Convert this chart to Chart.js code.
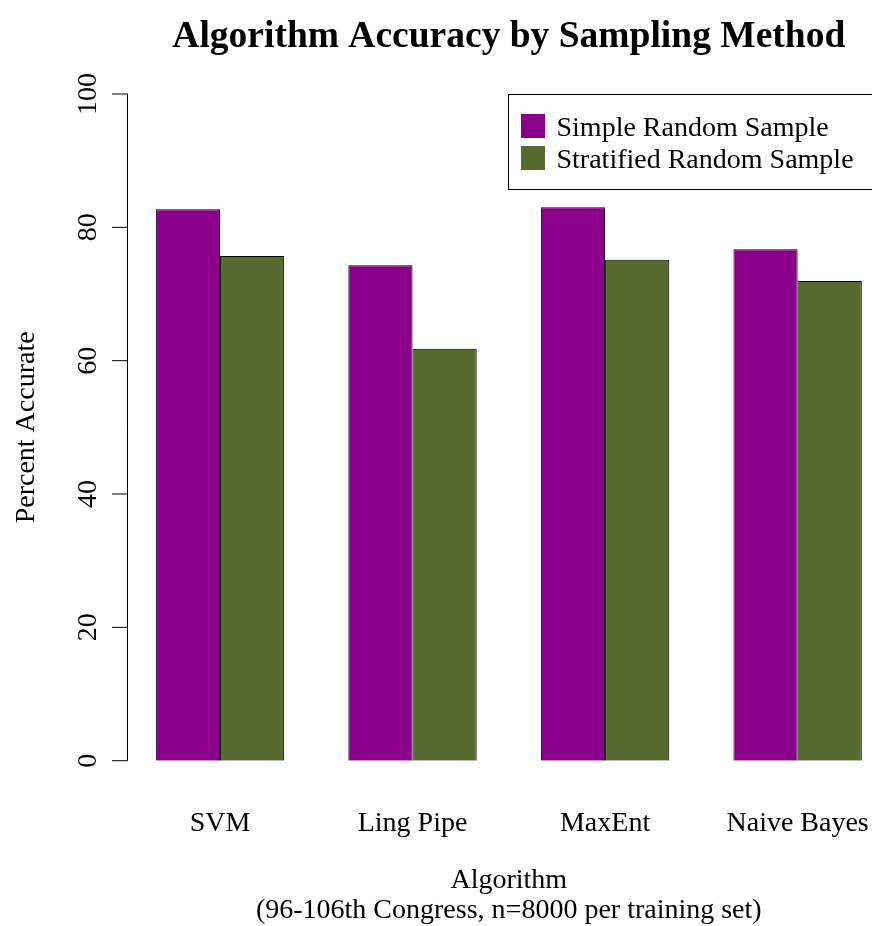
<!DOCTYPE html>
<html>
<head>
<meta charset="utf-8">
<script src="https://cdn.jsdelivr.net/npm/chart.js@4/dist/chart.umd.min.js"></script>
<style>
  html, body { margin: 0; padding: 0; overflow: hidden; background: #fff; }
  #wrap { width: 900px; height: 926px; }
</style>
</head>
<body>
<div id="wrap"><canvas id="chart" width="900" height="926"></canvas></div>
<script>
// data
const algorithms = ['SVM', 'Ling Pipe', 'MaxEnt', 'Naive Bayes'];
const simpleRandom = [82.7, 74.3, 83.0, 76.7];
const stratifiedRandom = [75.7, 61.8, 75.15, 71.95];
const seriesNames = ['Simple Random Sample', 'Stratified Random Sample'];
const seriesColors = ['#8B008B', '#556B2F'];
const yTicks = [0, 20, 40, 60, 80, 100];

const FONT = '"Liberation Serif", "Times New Roman", serif';

// R-style decorations: title, y axis with rotated labels, legend box, x titles
const decor = {
  id: 'decor',
  afterDraw(chart) {
    const ctx = chart.ctx;
    const y = chart.scales.y;
    const area = chart.chartArea;
    const cx = (area.left + area.right) / 2;
    ctx.save();
    ctx.fillStyle = '#000';
    ctx.strokeStyle = '#000';
    ctx.lineWidth = 1;

    // title
    ctx.font = 'bold 37.5px ' + FONT;
    ctx.textAlign = 'center';
    ctx.textBaseline = 'alphabetic';
    ctx.fillText('Algorithm Accuracy by Sampling Method', cx, 47);

    // y axis line + ticks
    const axX = 127.5;
    const top = y.getPixelForValue(yTicks[yTicks.length - 1]);
    const bot = y.getPixelForValue(yTicks[0]);
    ctx.beginPath();
    ctx.moveTo(axX, top);
    ctx.lineTo(axX, bot);
    yTicks.forEach(v => {
      const py = y.getPixelForValue(v);
      ctx.moveTo(112, py);
      ctx.lineTo(axX, py);
    });
    ctx.stroke();

    // y tick labels, rotated like R's las=0
    ctx.font = '28px ' + FONT;
    yTicks.forEach(v => {
      const py = y.getPixelForValue(v);
      ctx.save();
      ctx.translate(96, py);
      ctx.rotate(-Math.PI / 2);
      ctx.fillText(String(v), 0, 0);
      ctx.restore();
    });

    // y title
    ctx.save();
    ctx.translate(33.5, (top + bot) / 2);
    ctx.rotate(-Math.PI / 2);
    ctx.fillText('Percent Accurate', 0, 0);
    ctx.restore();

    // x title (two lines)
    ctx.fillText('Algorithm', cx, 888);
    ctx.fillText('(96-106th Congress, n=8000 per training set)', cx, 918);

    // legend
    ctx.strokeRect(508.5, 94.5, 420, 95);
    ctx.textAlign = 'left';
    chart.data.datasets.forEach((ds, i) => {
      const ry = 114 + i * 32;
      ctx.fillStyle = ds.backgroundColor;
      ctx.fillRect(521, ry, 24, 24);
      ctx.fillStyle = '#000';
      ctx.fillText(ds.label, 556.5, ry + 21.5);
    });
    ctx.restore();
  }
};

new Chart(document.getElementById('chart'), {
  type: 'bar',
  data: {
    labels: algorithms,
    datasets: [
      { label: seriesNames[0], data: simpleRandom, backgroundColor: seriesColors[0],
        borderColor: '#000', borderWidth: 1 },
      { label: seriesNames[1], data: stratifiedRandom, backgroundColor: seriesColors[1],
        borderColor: '#000', borderWidth: 1 }
    ]
  },
  options: {
    responsive: false,
    animation: false,
    devicePixelRatio: 1,
    layout: { padding: { left: 123.7, right: 6.1, top: 94, bottom: 0 } },
    datasets: { bar: { categoryPercentage: 0.6667, barPercentage: 1 } },
    plugins: { legend: { display: false }, tooltip: { enabled: false } },
    scales: {
      x: {
        grid: { display: false },
        border: { display: false },
        ticks: { color: '#000', font: { family: FONT, size: 28 }, padding: 38,
                 maxRotation: 0, autoSkip: false },
        afterFit: s => {
          s.height = 926 - 760.7;
          s.paddingLeft = 0;
          s.paddingRight = 0;
        }
      },
      y: {
        display: false,
        min: 0, max: 100
      }
    }
  },
  plugins: [decor]
});
</script>
</body>
</html>
